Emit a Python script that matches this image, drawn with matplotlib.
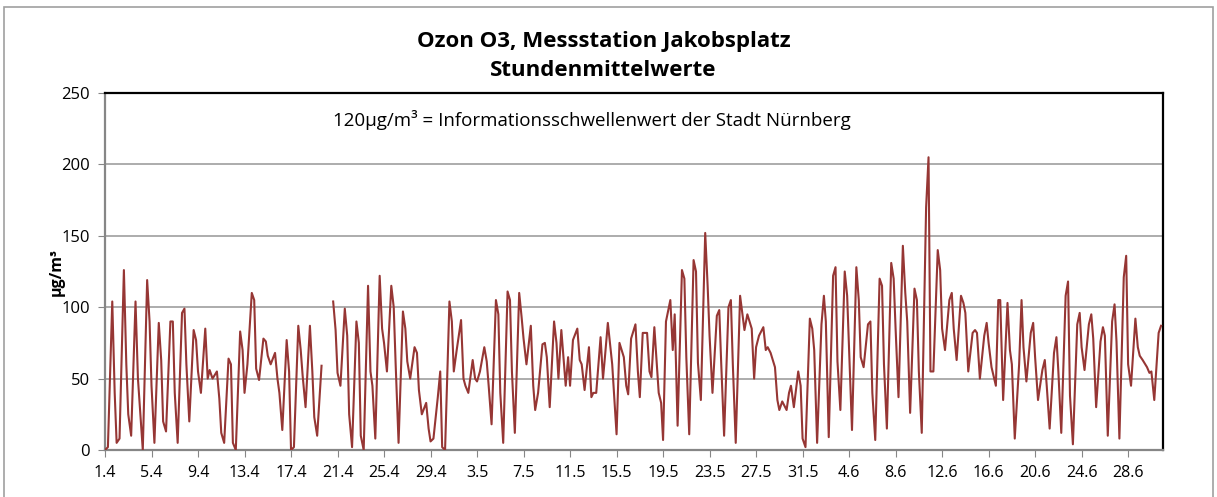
import numpy as np
import matplotlib.pyplot as plt
from matplotlib.patches import Rectangle

plt.rcParams.update({
    "font.family": ["Open Sans", "DejaVu Sans"],
    "font.size": 12,
})

# ---------------------------
# Data: O3 hourly means at four hours per day
# (0h, 6h, 15h, 20h); None = no measurement
# ---------------------------
SAMPLE_HOURS = [0, 6, 15, 20]

ozone_april = [
    [0, 2, 104, 40], [5, 8, 126, 60], [25, 10, 104, 50], [30, 0, 119, 90],
    [45, 5, 89, 63], [20, 13, 90, 90], [40, 5, 96, 99], [60, 20, 84, 77],
    [55, 40, 85, 50], [56, 50, 55, 36], [12, 5, 64, 60], [5, 0, 83, 70],
    [40, 60, 110, 105], [57, 49, 78, 76], [66, 60, 68, 50], [40, 14, 77, 55],
    [0, 2, 87, 70], [52, 30, 87, 55], [23, 10, 59, None], [None, None, 104, 84],
    [54, 45, 99, 80], [25, 2, 90, 75], [10, 0, 115, 55], [45, 8, 122, 85],
    [75, 55, 115, 100], [60, 5, 97, 85], [62, 50, 72, 68], [42, 25, 33, 15],
    [6, 8, 37, 55], [2, 0, 104, 90],
]
ozone_may = [
    [55, 70, 91, 50], [45, 40, 63, 50], [48, 55, 72, 62], [45, 18, 105, 95],
    [40, 5, 111, 105], [55, 12, 110, 93], [78, 60, 87, 45], [28, 40, 74, 75],
    [65, 30, 90, 75], [50, 84, 45, 65], [45, 77, 85, 63], [60, 42, 72, 37],
    [40, 40, 79, 50], [65, 89, 60, 33], [11, 75, 65, 45], [39, 78, 88, 55],
    [37, 82, 82, 55], [51, 86, 40, 33], [7, 90, 105, 70], [95, 17, 126, 120],
    [65, 11, 133, 125], [61, 35, 152, 115], [80, 40, 94, 98], [61, 10, 100, 105],
    [60, 5, 108, 95], [84, 95, 85, 50], [72, 80, 86, 70], [72, 68, 58, 35],
    [28, 34, 28, 40], [45, 30, 55, 45], [8, 2, 92, 85],
]
ozone_june = [
    [70, 5, 88, 108], [90, 9, 122, 128], [62, 28, 125, 108], [70, 14, 128, 105],
    [65, 58, 88, 90], [40, 7, 120, 115], [60, 15, 131, 120], [85, 37, 143, 110],
    [90, 26, 113, 105], [55, 12, 170, 205], [55, 55, 140, 126], [85, 70, 105, 110],
    [85, 63, 108, 103], [96, 55, 82, 84], [82, 50, 80, 89], [75, 58, 45, 105],
    [105, 35, 103, 70], [60, 8, 60, 105], [72, 48, 82, 89], [65, 35, 56, 63],
    [45, 15, 68, 79], [55, 12, 108, 118], [38, 4, 88, 96], [72, 56, 88, 95],
    [78, 30, 76, 86], [80, 10, 90, 102], [76, 8, 121, 136], [60, 45, 92, 72],
    [66, 63, 58, 54], [55, 35, 82, 87],
]

tick_labels = ["1.4", "5.4", "9.4", "13.4", "17.4", "21.4", "25.4", "29.4",
               "3.5", "7.5", "11.5", "15.5", "19.5", "23.5", "27.5", "31.5",
               "4.6", "8.6", "12.6", "16.6", "20.6", "24.6", "28.6"]

LINE_COL = "#963634"
GRID_COL = "#A6A6A6"

# ---------------------------
# Build series
# ---------------------------
days = ozone_april + ozone_may + ozone_june
x, y = [], []
for d, vals in enumerate(days):
    for h, v in zip(SAMPLE_HOURS, vals):
        x.append(d + h / 24)
        y.append(np.nan if v is None else v)
x = np.array(x)
y = np.array(y, dtype=float)
n_days = len(days)

# ---------------------------
# Figure
# ---------------------------
fig = plt.figure(figsize=(12.17, 4.97), dpi=100)
ax = fig.add_axes([105 / 1217, 47 / 497, 1058 / 1217, 357 / 497])

fig.patches.append(Rectangle((4 / 1217, -0.1), 1209 / 1217, 1.1 - 7 / 497,
                             transform=fig.transFigure, fill=False,
                             edgecolor="#A0A0A0", linewidth=1.2))

ax.plot(x, y, color=LINE_COL, linewidth=1.5, zorder=3)

ax.set_xlim(0, n_days)
ax.set_ylim(0, 250)
ax.set_yticks(range(0, 251, 50))
ax.set_xticks(range(0, 4 * len(tick_labels), 4))
ax.set_xticklabels(tick_labels, fontsize=11.5)
ax.tick_params(axis="y", labelsize=12, direction="out", length=5,
               color="#868686", pad=6)
ax.tick_params(axis="x", direction="out", length=5, color="#868686", pad=6)

ax.yaxis.grid(True, color=GRID_COL, linewidth=1.3)
ax.set_axisbelow(True)

for side in ["top", "right"]:
    ax.spines[side].set_color("black")
    ax.spines[side].set_linewidth(1.6)
for side in ["left", "bottom"]:
    ax.spines[side].set_color("#868686")
    ax.spines[side].set_linewidth(1.6)

ax.set_ylabel("µg/m³", fontweight="bold", fontsize=11.5, labelpad=-3)

ax.text(0.46, 0.925, "120µg/m³ = Informationsschwellenwert der Stadt Nürnberg",
        transform=ax.transAxes, ha="center", va="center", fontsize=13.5)

fig.text(0.496, 1 - 42 / 497, "Ozon O3, Messstation Jakobsplatz",
         ha="center", va="center", fontweight="bold", fontsize=16)
fig.text(0.496, 1 - 70 / 497, "Stundenmittelwerte",
         ha="center", va="center", fontweight="bold", fontsize=16)

fig.savefig("out.png", dpi=100, facecolor="white")
